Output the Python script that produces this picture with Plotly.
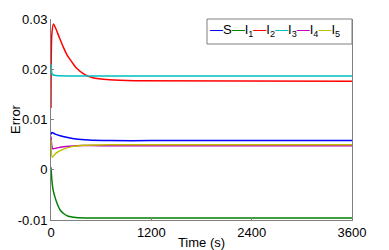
import plotly.graph_objects as go

# Hand-read samples (time in s, error)
t_S = [0, 10, 50, 100, 200, 300, 450, 700, 1200, 3600]
S = [0.0070, 0.0074, 0.0071, 0.0068, 0.0064, 0.0061, 0.0059, 0.0058, 0.0058, 0.0058]

t_I1 = [0, 10, 25, 50, 80, 110, 150, 200, 300, 500, 1200, 3600]
I1 = [0.0005, -0.0020, -0.0040, -0.0056, -0.0070, -0.0080, -0.0087, -0.0092, -0.0095, -0.0096, -0.0096, -0.0096]

t_I2 = [0, 10, 30, 60, 100, 150, 200, 260, 300, 400, 500, 700, 1000, 3600]
I2 = [0.0123, 0.0270, 0.0290, 0.0280, 0.0263, 0.0243, 0.0226, 0.0212, 0.0203, 0.0190, 0.0183, 0.0179, 0.0177, 0.0176]

t_I3 = [0, 15, 40, 200, 3600]
I3 = [0.0210, 0.0190, 0.0188, 0.01865, 0.01865]

t_I4 = [0, 20, 60, 150, 300, 600, 3600]
I4 = [0.0066, 0.0042, 0.0043, 0.0046, 0.0048, 0.0048, 0.0048]

t_I5 = [0, 15, 60, 150, 250, 400, 700, 3600]
I5 = [0.0060, 0.0025, 0.0033, 0.0041, 0.0046, 0.0049, 0.0050, 0.0050]

names = ["S", "I<sub>1</sub>", "I<sub>2</sub>", "I<sub>3</sub>", "I<sub>4</sub>", "I<sub>5</sub>"]
colors = ["#0000ff", "#008000", "#ff0000", "#00bfbf", "#bf00bf", "#bfbf00"]
series = [(t_S, S), (t_I1, I1), (t_I2, I2), (t_I3, I3), (t_I4, I4), (t_I5, I5)]

xticks = [0, 1200, 2400, 3600]
yticks = [-0.01, 0, 0.01, 0.02, 0.03]
yticktext = ["-0.01", "0", "0.01", "0.02", "0.03"]

fig = go.Figure()
for (tx, ty), nm, c in zip(series, names, colors):
    fig.add_trace(go.Scatter(x=tx, y=ty, mode="lines", name=nm,
                             line=dict(color=c, width=1.5, shape="spline", smoothing=0.6),
                             showlegend=False))

font = dict(family="Liberation Sans, Arial, sans-serif", size=13, color="black")
# page body has an 8px margin: figure is 381x242 placed at (8,8)
fig.update_layout(
    width=381, height=242,
    margin=dict(l=43, r=37, t=11, b=30),
    paper_bgcolor="white", plot_bgcolor="white",
    font=font,
    xaxis=dict(range=[0, 3600], tickvals=xticks, ticks="inside", ticklen=3,
               tickcolor="#808080", showline=True, linecolor="#808080", linewidth=1,
               showgrid=False, zeroline=False, automargin=False,
               title=dict(text="Time (s)", standoff=0, font=font)),
    yaxis=dict(range=[-0.01, 0.03], tickvals=yticks, ticktext=yticktext, ticks="inside",
               ticklen=3, tickcolor="#808080", showline=True, linecolor="#808080",
               linewidth=1, mirror=True, showgrid=False, zeroline=False, automargin=False,
               title=dict(text="Error", standoff=2, font=font)),
)

# custom compact legend
leg_text = "".join(
    f'<span style="color:{c}">—</span>{nm}' for nm, c in zip(names, colors)
)
fig.add_shape(type="rect", xref="paper", yref="paper",
              x0=(207 - 51) / 301, x1=1.0, y0=(220 - 44) / 201, y1=(220 - 19) / 201,
              line=dict(color="#808080", width=1), fillcolor="white")
fig.add_annotation(text=leg_text, xref="paper", yref="paper",
                   x=(208 - 51) / 301, y=(220 - 31) / 201, xanchor="left", yanchor="middle",
                   showarrow=False, font=dict(family="Liberation Sans, Arial, sans-serif", size=13, color="black"))

fig.write_html("out.html")
